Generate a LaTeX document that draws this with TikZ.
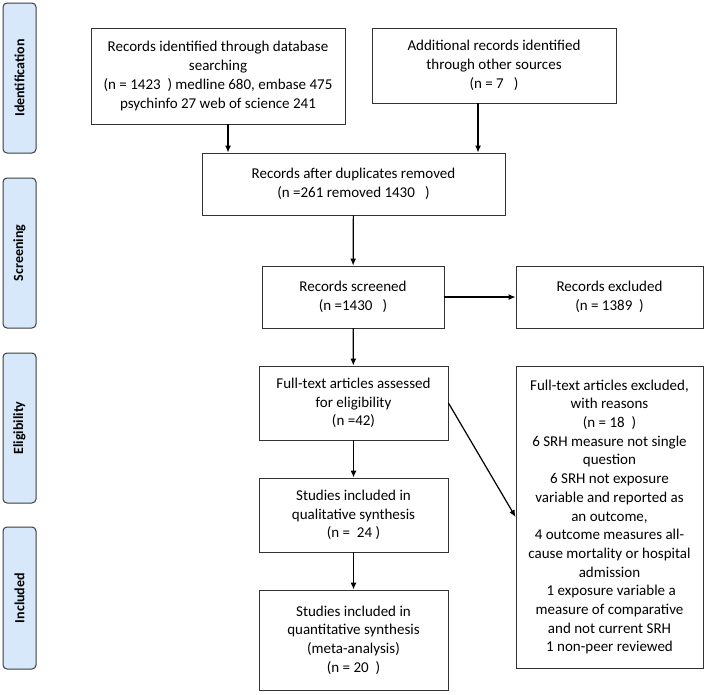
\documentclass[tikz,border=0pt]{standalone}
\usepackage{fontspec}
\setmainfont{Carlito}
\usetikzlibrary{arrows.meta,positioning}
\definecolor{phasefill}{RGB}{214,232,250}
\definecolor{phaseline}{RGB}{60,60,60}

\tikzset{
	stage/.style={draw=phaseline, fill=phasefill, rounded corners=4pt, line width=1pt,
		minimum width=33pt, inner sep=0pt, font=\fontsize{14}{16}\selectfont\bfseries},
	rec/.style={draw=black!80, line width=0.9pt, align=center, inner sep=0pt,
		font=\fontsize{15}{18.7}\selectfont},
	arr/.style={-{Latex[length=7pt,width=6pt]}, line width=1.2pt}
}

\begin{document}
\begin{tikzpicture}[x=1pt, y=-1pt]

			\useasboundingbox (0,0) rectangle (707,694);

			% Phase labels
			\node[stage, minimum height=150pt] (ident) at (19.5,78)  {\rotatebox{90}{Identification}};
			\node[stage, minimum height=150pt] (screen) at (19.5,253) {\rotatebox{90}{Screening}};
			\node[stage, minimum height=150pt] (elig) at (19.5,428)   {\rotatebox{90}{Eligibility}};
			\node[stage, minimum height=142pt] (incl) at (19.5,598)   {\rotatebox{90}{Included}};

			% Define nodes
			\node[rec, minimum width=254pt, minimum height=96pt]  (db) at (218,76)
				{Records identified through database\\searching\\(n = 1423~~) medline 680, embase 475\\psychinfo 27 web of science 241};
			\node[rec, minimum width=244pt, minimum height=75pt]  (other) at (494,65.5)
				{Additional records identified\\through other sources\\(n = 7~~~)};
			\node[rec, minimum width=303pt, minimum height=62pt] (dup) at (353.5,184)
				{Records after duplicates removed\\(n =261 removed 1430~~~)};
			\node[rec, minimum width=182pt, minimum height=62pt] (scr) at (353,297)
				{Records screened\\(n =1430~~~)};
			\node[rec, minimum width=187pt, minimum height=62pt] (excl) at (609.5,297)
				{Records excluded\\(n = 1389~~)};
			\node[rec, minimum width=189pt, minimum height=74pt] (full) at (353.5,403)
				{Full-text articles assessed\\for eligibility\\(n =42)};
			\node[rec, minimum width=187pt, minimum height=302pt] (fexcl) at (609.5,517)
				{Full-text articles excluded,\\with reasons\\(n = 18~~)\\6 SRH measure not single\\question\\6 SRH not exposure\\variable and reported as\\an outcome,\\4 outcome measures all-\\cause mortality or hospital\\admission\\~1 exposure variable a\\measure of comparative\\and not current SRH\\1 non-peer reviewed};
			\node[rec, minimum width=189pt, minimum height=74pt] (qual) at (353.5,515)
				{Studies included in\\qualitative synthesis\\(n =~~24 )};
			\node[rec, minimum width=189pt, minimum height=100pt] (quant) at (353.5,640)
				{Studies included in\\quantitative synthesis\\(meta-analysis)\\(n = 20~~)};

			% Connect the nodes
			\draw[arr] ([xshift=10pt]db.south) -- ([xshift=10pt]db.south |- dup.north);
			\draw[arr] ([xshift=-16pt]other.south) -- ([xshift=-16pt]other.south |- dup.north);
			\draw[arr] (dup) -- (scr);
			\draw[arr] (scr) -- (excl);
			\draw[arr] (scr) -- (full);
			\draw[arr] (full.east) -- (fexcl.west);
			\draw[arr] (full) -- (qual);
			\draw[arr] (qual) -- (quant);

\end{tikzpicture}
\end{document}
